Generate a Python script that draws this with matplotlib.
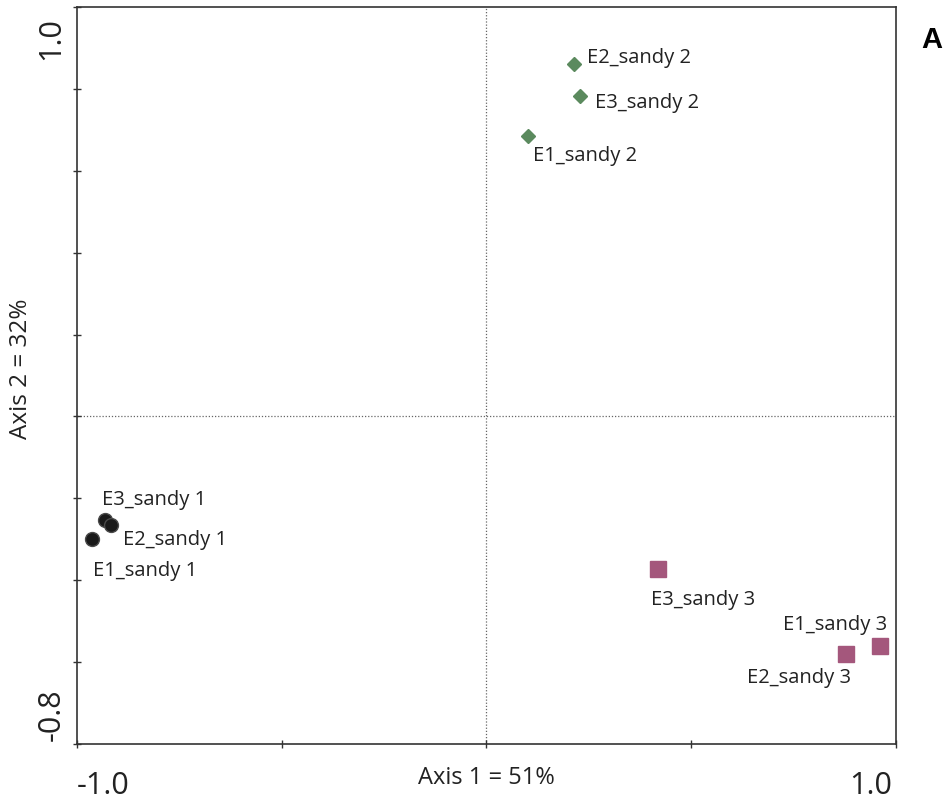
import matplotlib
matplotlib.use('Agg')
import matplotlib.pyplot as plt

plt.rcParams['font.family'] = ['Open Sans', 'DejaVu Sans']

# coordenadas das amostras (eixo 1, eixo 2)
nomes1 = ['E3_sandy 1', 'E2_sandy 1', 'E1_sandy 1']
x1 = [-0.932, -0.917, -0.963]
y1 = [-0.253, -0.265, -0.299]

nomes2 = ['E2_sandy 2', 'E3_sandy 2', 'E1_sandy 2']
x2 = [0.214, 0.228, 0.101]
y2 = [0.861, 0.783, 0.685]

nomes3 = ['E3_sandy 3', 'E2_sandy 3', 'E1_sandy 3']
x3 = [0.419, 0.878, 0.961]
y3 = [-0.372, -0.580, -0.560]

# deslocamento dos rotulos em pixels
offsets = {
    'E3_sandy 1': (-3, 21, 'left'),
    'E2_sandy 1': (12, -14, 'left'),
    'E1_sandy 1': (1, -31, 'left'),
    'E2_sandy 2': (13, 7, 'left'),
    'E3_sandy 2': (15, -6, 'left'),
    'E1_sandy 2': (5, -19, 'left'),
    'E3_sandy 3': (-7, -30, 'left'),
    'E2_sandy 3': (-99, -23, 'left'),
    'E1_sandy 3': (7, 22, 'right'),
}

fig = plt.figure(figsize=(9.47, 8.03), dpi=100)
ax = fig.add_axes([0.0813, 0.0722, 0.8648, 0.9178])

ax.axvline(0, color='#666666', lw=0.9, ls=(0, (1, 1.5)), zorder=1)
ax.axhline(0, color='#666666', lw=0.9, ls=(0, (1, 1.5)), zorder=1)

ax.plot(x1, y1, 'o', ms=10, color='#1a1a1a', mec='#4a4a4a', mew=1, ls='none', zorder=3)
ax.plot(x2, y2, 'D', ms=7.5, color='#5b8a5e', mec='#5b8a5e', ls='none', zorder=3)
ax.plot(x3, y3, 's', ms=11, color='#a4577c', mec='#a4577c', ls='none', zorder=3)

for nomes, xs, ys in [(nomes1, x1, y1), (nomes2, x2, y2), (nomes3, x3, y3)]:
    for n, xx, yy in zip(nomes, xs, ys):
        dx, dy, ha = offsets[n]
        ax.annotate(n, (xx, yy), xytext=(dx, dy), textcoords='offset pixels',
                    ha=ha, va='center', fontsize=14.5, color='#222222')

ax.set_xlim(-1.0, 1.0)
ax.set_ylim(-0.8, 1.0)
ax.set_xticks([-1.0, -0.5, 0.0, 0.5, 1.0])
ax.set_yticks([-0.8, -0.6, -0.4, -0.2, 0.0, 0.2, 0.4, 0.6, 0.8, 1.0])
ax.set_xticklabels([])
ax.set_yticklabels([])
ax.tick_params(direction='inout', length=6, width=1, color='#333333')
ax.tick_params(top=False, right=False)
for s in ax.spines.values():
    s.set_color('#333333')
    s.set_linewidth(1.2)

# rotulos das extremidades
ax.text(0.0, -0.035, '-1.0', transform=ax.transAxes, ha='left', va='top', fontsize=22, color='#222222')
ax.text(0.995, -0.035, '1.0', transform=ax.transAxes, ha='right', va='top', fontsize=22, color='#222222')
ax.text(-0.031, 0.987, '1.0', transform=ax.transAxes, ha='center', va='top', rotation=90, fontsize=22, color='#222222')
ax.text(-0.031, 0.005, '-0.8', transform=ax.transAxes, ha='center', va='bottom', rotation=90, fontsize=22, color='#222222')

ax.text(0.5, -0.028, 'Axis 1 = 51%', transform=ax.transAxes, ha='center', va='top', fontsize=17, color='#222222')
ax.text(-0.068, 0.51, 'Axis 2 = 32%', transform=ax.transAxes, ha='center', va='center', rotation=90, fontsize=17.5, color='#222222')

fig.text(0.984, 0.95, 'A', ha='center', va='center', fontsize=21, fontweight='bold', family='Liberation Sans')

fig.savefig('out.png', dpi=100)
